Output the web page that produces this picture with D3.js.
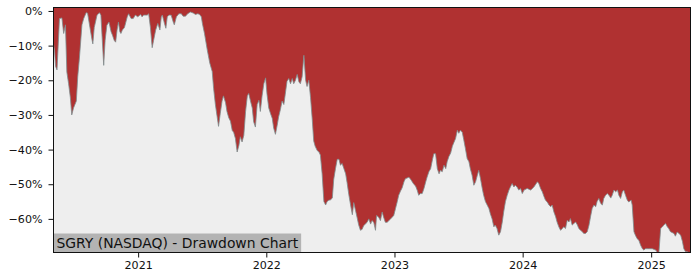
<!DOCTYPE html>
<html>
<head>
<meta charset="utf-8">
<script src="https://cdn.jsdelivr.net/npm/d3@7"></script>
<style>
  body { margin: 0; background: #fff; }
  svg { display: block; font-family: "DejaVu Sans", sans-serif; }
</style>
</head>
<body>
<svg id="chart" width="700" height="280"></svg>
<script>
// drawdown (%)
const dates = [
  "2020-05-05","2020-05-08","2020-05-11","2020-05-15","2020-05-22","2020-05-29","2020-06-03","2020-06-08",
  "2020-06-12","2020-06-17","2020-06-22","2020-06-26","2020-07-01","2020-07-09","2020-07-13","2020-07-18",
  "2020-07-25","2020-07-30","2020-08-06","2020-08-10","2020-08-18","2020-08-23","2020-08-25","2020-08-29",
  "2020-09-06","2020-09-13","2020-09-17","2020-09-21","2020-09-25","2020-09-29","2020-10-04","2020-10-10",
  "2020-10-16","2020-10-20","2020-10-25","2020-10-29","2020-11-02","2020-11-06","2020-11-10","2020-11-13",
  "2020-11-17","2020-11-23","2020-12-01","2020-12-05","2020-12-12","2020-12-18","2020-12-24","2020-12-31",
  "2021-01-08","2021-01-12","2021-01-17","2021-01-27","2021-01-31","2021-02-05","2021-02-10","2021-02-14",
  "2021-02-20","2021-02-26","2021-03-04","2021-03-08","2021-03-11","2021-03-17","2021-03-21","2021-03-25",
  "2021-03-30","2021-04-05","2021-04-11","2021-04-14","2021-04-20","2021-04-27","2021-05-04","2021-05-09",
  "2021-05-16","2021-05-22","2021-05-30","2021-06-07","2021-06-13","2021-06-20","2021-06-25","2021-06-30",
  "2021-07-03","2021-07-09","2021-07-17","2021-07-24","2021-07-31","2021-08-04","2021-08-09","2021-08-14",
  "2021-08-18","2021-08-23","2021-08-28","2021-09-01","2021-09-07","2021-09-11","2021-09-16","2021-09-21",
  "2021-09-26","2021-09-30","2021-10-05","2021-10-10","2021-10-15","2021-10-19","2021-10-24","2021-10-29",
  "2021-11-03","2021-11-08","2021-11-12","2021-11-17","2021-11-22","2021-11-26","2021-12-01","2021-12-06",
  "2021-12-11","2021-12-15","2021-12-20","2021-12-25","2021-12-30","2022-01-03","2022-01-08","2022-01-13",
  "2022-01-18","2022-01-22","2022-01-27","2022-02-01","2022-02-05","2022-02-10","2022-02-15","2022-02-20",
  "2022-02-24","2022-03-01","2022-03-06","2022-03-11","2022-03-16","2022-03-20","2022-03-25","2022-03-30",
  "2022-04-04","2022-04-08","2022-04-13","2022-04-18","2022-04-23","2022-04-27","2022-05-02","2022-05-07",
  "2022-05-12","2022-05-16","2022-05-20","2022-05-26","2022-05-31","2022-06-04","2022-06-09","2022-06-14",
  "2022-06-19","2022-06-23","2022-06-28","2022-07-03","2022-07-08","2022-07-12","2022-07-17","2022-07-22",
  "2022-07-27","2022-07-31","2022-08-05","2022-08-10","2022-08-15","2022-08-19","2022-08-24","2022-08-29",
  "2022-09-03","2022-09-07","2022-09-12","2022-09-17","2022-09-21","2022-09-26","2022-10-01","2022-10-05",
  "2022-10-15","2022-10-20","2022-10-25","2022-10-29","2022-11-03","2022-11-08","2022-11-11","2022-11-17",
  "2022-11-22","2022-11-27","2022-12-01","2022-12-06","2022-12-11","2022-12-21","2022-12-30","2023-01-04",
  "2023-01-09","2023-01-13","2023-01-18","2023-01-23","2023-01-28","2023-02-01","2023-02-11","2023-02-15",
  "2023-02-25","2023-03-02","2023-03-07","2023-03-11","2023-03-16","2023-03-21","2023-03-26","2023-03-31",
  "2023-04-04","2023-04-09","2023-04-14","2023-04-19","2023-04-23","2023-04-28","2023-05-03","2023-05-08",
  "2023-05-12","2023-05-17","2023-05-22","2023-05-27","2023-05-31","2023-06-05","2023-06-10","2023-06-15",
  "2023-06-19","2023-06-24","2023-06-29","2023-07-03","2023-07-08","2023-07-13","2023-07-17","2023-07-22",
  "2023-07-27","2023-08-01","2023-08-05","2023-08-10","2023-08-15","2023-08-20","2023-08-25","2023-08-29",
  "2023-09-03","2023-09-08","2023-09-12","2023-09-17","2023-09-22","2023-09-27","2023-10-01","2023-10-06",
  "2023-10-11","2023-10-15","2023-10-20","2023-10-25","2023-10-30","2023-11-04","2023-11-08","2023-11-13",
  "2023-11-18","2023-11-23","2023-11-27","2023-12-02","2023-12-07","2023-12-11","2023-12-16","2023-12-21",
  "2023-12-26","2023-12-31","2024-01-05","2024-01-14","2024-01-24","2024-02-02","2024-02-12","2024-02-16",
  "2024-02-21","2024-02-26","2024-03-02","2024-03-06","2024-03-11","2024-03-16","2024-03-21","2024-03-25",
  "2024-03-30","2024-04-04","2024-04-08","2024-04-13","2024-04-18","2024-04-23","2024-04-27","2024-05-02",
  "2024-05-07","2024-05-12","2024-05-16","2024-05-21","2024-05-26","2024-05-31","2024-06-05","2024-06-09",
  "2024-06-14","2024-06-19","2024-06-23","2024-06-28","2024-07-03","2024-07-08","2024-07-13","2024-07-17",
  "2024-07-22","2024-07-27","2024-07-31","2024-08-05","2024-08-10","2024-08-15","2024-08-19","2024-08-24",
  "2024-08-29","2024-09-03","2024-09-08","2024-09-12","2024-09-17","2024-09-22","2024-09-27","2024-10-01",
  "2024-10-06","2024-10-11","2024-10-15","2024-10-20","2024-10-25","2024-10-29","2024-11-05","2024-11-08",
  "2024-11-13","2024-11-17","2024-11-22","2024-11-27","2024-12-02","2024-12-07","2024-12-11","2024-12-16",
  "2024-12-25","2025-01-04","2025-01-14","2025-01-19","2025-01-23","2025-01-28","2025-02-02","2025-02-06",
  "2025-02-11","2025-02-16","2025-02-20","2025-02-25","2025-03-07","2025-03-11","2025-03-16","2025-03-21",
  "2025-03-26","2025-03-31","2025-04-04","2025-04-09","2025-04-14","2025-04-18","2025-04-23"
];
const drawdown = [
  -9.5,-11.5,-16,-17,-2.2,-2.0,-6.5,-4.0,
  -17.6,-21,-25,-30,-28,-26,-19,-13.3,
  -4,-2.2,-0.5,-0.6,-5.5,-8.5,-9.5,-4.8,
  -1.2,-0.5,-1.2,-8.5,-15.7,-8.5,-4.1,-3.2,
  -6,-7,-8.5,-9,-5.5,-3.2,-6,-6.5,
  -5.5,-4.8,-1.7,-0.8,-2.2,-2.2,-1.2,-1.7,
  -1.0,-1.7,-1.2,-1.2,-0.8,-4.8,-10.6,-8.5,
  -5.5,-3.6,-5.5,-1.7,-1.2,-3.6,-5,-1.7,
  -1.2,-1.2,-3.2,-4.0,-1.7,-0.8,-0.8,-1.5,
  -1.5,-0.8,-0.3,-0.6,-1.0,-0.8,-1.0,-1.7,
  -3.6,-6.5,-11.3,-15,-17.5,-22.4,-27,-30.5,
  -33.3,-29.5,-26,-24.5,-26.5,-29,-30.8,-31.8,
  -34.5,-35,-36.8,-40.7,-38.8,-36.3,-37.8,-35.9,
  -29,-24.5,-23.8,-26,-28,-32,-33.5,-27,
  -25.8,-29,-24.5,-21,-19.3,-24,-28,-29.6,
  -31,-33.8,-35.6,-33,-30.6,-28.5,-26,-27,
  -24,-20.3,-19.5,-21,-19.5,-21,-20,-18.3,
  -20.5,-21,-19,-12.8,-20,-21.8,-20,-25,
  -31.5,-37.5,-39,-40.3,-40.7,-41.6,-47,-55,
  -56,-55,-54.6,-54.5,-54,-48.6,-45.5,-42.8,
  -42.8,-44.5,-44,-45.5,-47,-49.5,-53,-56,
  -58.8,-55.3,-57.5,-59.8,-61.7,-63.3,-63,-62,
  -61,-60,-61.5,-60.5,-61,-63.3,-59,-59.5,
  -60.5,-58,-59.5,-61,-61,-60,-59,-57,
  -55,-53.2,-52,-51,-49.3,-48.4,-48,-48.4,
  -50,-50.5,-51.8,-53.2,-52.7,-52.7,-51.2,-49.3,
  -47.9,-46.4,-45.5,-43,-41.2,-41.2,-45.5,-47,
  -46,-46.4,-44.5,-45.5,-43.5,-42,-41,-39,
  -38,-36.8,-34.4,-35.3,-34.4,-35,-37,-39.7,
  -42.6,-43.5,-45.5,-47.4,-50.3,-49.3,-47.4,-46,
  -48.4,-51.2,-53.2,-55,-56,-57,-58.5,-60,
  -62.3,-61.8,-62.8,-64.7,-63.7,-60.9,-58,-55,
  -53.2,-51.7,-50.8,-49.8,-50.8,-50.3,-50.8,-51.7,
  -51.2,-52.7,-51.7,-51.2,-51.7,-50.8,-49.3,-49.8,
  -51.2,-52.2,-53.6,-54.6,-55.1,-56,-56.5,-56,
  -58,-59.4,-60.9,-62.3,-63.3,-62.8,-62.3,-62.8,
  -60.4,-60.9,-59.9,-61.8,-61.3,-60.9,-61.8,-62.8,
  -63.3,-63.7,-64.2,-64.2,-63.7,-61.8,-59,-57,
  -56,-56.5,-55,-54.1,-55.5,-56,-54.1,-53.2,
  -52.7,-53.2,-54,-53.2,-51.7,-52.2,-51.7,-53.2,
  -54.1,-52.2,-51.7,-53.2,-54.6,-55.1,-54.6,-56,
  -63.7,-64.7,-65.7,-66.2,-67.6,-68.6,-69,-68.6,
  -68.6,-68.6,-69,-69.7,-69.7,-62.8,-62.3,-61.8,
  -61.3,-62.3,-62.8,-63.7,-64.2,-65,-63.8,-64.2,
  -64.7,-66.5,-68.6,-69.5,-69.5,-69.7,-69.7
];
const yTicks = [0, -10, -20, -30, -40, -50, -60];
const yearTicks = ["2021", "2022", "2023", "2024", "2025"];
const yRange = [-69.7, 1];
const label = "SGRY (NASDAQ) - Drawdown Chart";

const parse = d3.timeParse("%Y-%m-%d");
const data = dates.map((d, i) => ({ date: parse(d), value: drawdown[i] }));

const margin = { top: 7, right: 10, bottom: 28, left: 53 },
  width = 700 - margin.left - margin.right,
  height = 280 - margin.top - margin.bottom;

const svg = d3.select("#chart")
  .append("g")
  .attr("transform", `translate(${margin.left + 0.5},${margin.top + 0.5})`);

const x = d3.scaleTime()
  .domain(d3.extent(data, d => d.date))
  .range([0, width]);

const y = d3.scaleLinear()
  .domain(yRange)
  .range([height, 0]);

// red face, grey fill below the drawdown curve
svg.append("rect")
  .attr("width", width)
  .attr("height", height)
  .attr("fill", "#b03131");

svg.append("path")
  .datum(data)
  .attr("fill", "#eeeeee")
  .attr("d", d3.area()
    .x(d => x(d.date))
    .y0(height)
    .y1(d => y(d.value)));

svg.append("path")
  .datum(data)
  .attr("fill", "none")
  .attr("stroke", "#7f8c8d")
  .attr("stroke-width", 0.8)
  .attr("d", d3.line()
    .x(d => x(d.date))
    .y(d => y(d.value)));

// label box in the lower left corner
const labelG = svg.append("g");
const labelText = labelG.append("text")
  .attr("x", 3)
  .attr("y", height - 5)
  .attr("font-size", 13.9)
  .attr("fill", "#111")
  .text(label);
const tw = labelText.node().getComputedTextLength();
labelG.insert("rect", "text")
  .attr("x", 0)
  .attr("y", height - 19)
  .attr("width", tw + 6)
  .attr("height", 19)
  .attr("fill", "#b3b3b3");

// axes
const fmtPct = d => (d < 0 ? "\u2212" : "") + Math.abs(d) + "%";

const yAxis = svg.append("g")
  .call(d3.axisLeft(y).tickValues(yTicks).tickFormat(fmtPct).tickSize(5).tickPadding(6));

const xAxis = svg.append("g")
  .attr("transform", `translate(0,${height})`)
  .call(d3.axisBottom(x)
    .tickValues(yearTicks.map(t => d3.timeParse("%Y")(t)))
    .tickFormat(d3.timeFormat("%Y"))
    .tickSize(5).tickPadding(4));

[yAxis, xAxis].forEach(a => {
  a.select(".domain").remove();
  a.selectAll("text")
    .attr("font-size", 11.1)
    .attr("font-family", "DejaVu Sans")
    .attr("fill", "#111");
  a.selectAll("line").attr("stroke", "#111");
});

svg.append("rect")
  .attr("width", width)
  .attr("height", height)
  .attr("fill", "none")
  .attr("stroke", "#111")
  .attr("stroke-width", 1);
</script>
</body>
</html>
